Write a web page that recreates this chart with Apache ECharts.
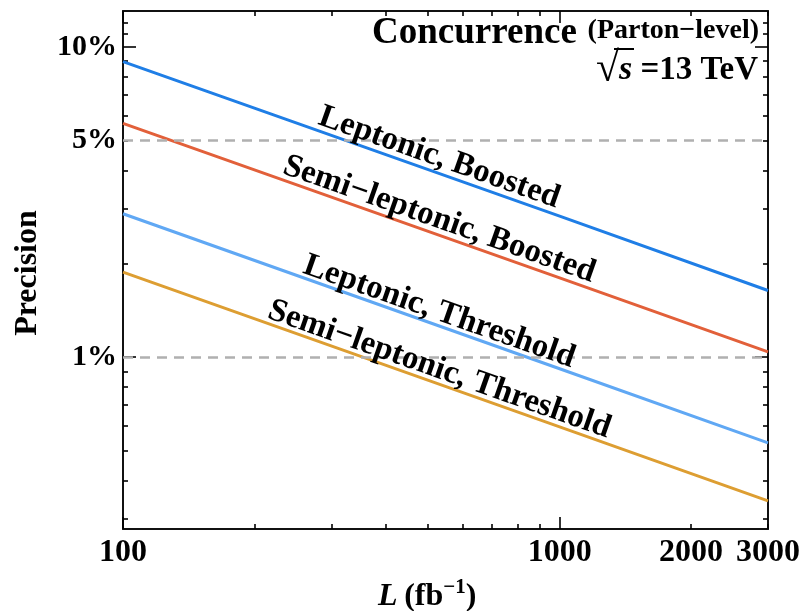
<!DOCTYPE html>
<html>
<head>
<meta charset="utf-8">
<script src="https://cdn.jsdelivr.net/npm/echarts@6/dist/echarts.min.js"></script>
<style>
  html, body { margin: 0; padding: 0; background: #ffffff; }
  #chart { width: 803px; height: 611px; }
</style>
</head>
<body>
<div id="chart"></div>
<script>
// Integrated luminosity (fb^-1) and the expected precision (%) for each channel
const luminosity = [100, 1000, 3000];
const leptonicBoosted = [8.97, 2.85, 1.64];
const semiLeptonicBoosted = [5.67, 1.80, 1.04];
const leptonicThreshold = [2.90, 0.917, 0.529];
const semiLeptonicThreshold = [1.88, 0.596, 0.344];

const channelNames = [
  'Leptonic, Boosted',
  'Semi\u2212leptonic, Boosted',
  'Leptonic, Threshold',
  'Semi\u2212leptonic, Threshold'
];

// Axis ticks and labels
const xLabelValues = [100, 1000, 2000, 3000];
const xMajorTicks = [100, 1000];
const xMinorTicks = [200, 300, 400, 500, 600, 700, 800, 900, 2000, 3000];
const yLabelValues = [1, 5, 10];
const yMajorTicks = [1, 10];
const yMinorTicks = [0.3, 0.4, 0.5, 0.6, 0.7, 0.8, 0.9, 2, 3, 4, 5, 6, 7, 8, 9, 11, 12];
const guideLevels = [5, 1];

const X_MIN = 100, X_MAX = 3000;
const Y_MIN = 0.279, Y_MAX = 13.07;

const SERIF = "'Liberation Serif', 'Times New Roman', serif";
const colors = ['#1f7ee6', '#e2603a', '#60a8f4', '#dd9e32'];
const seriesValues = [leptonicBoosted, semiLeptonicBoosted, leptonicThreshold, semiLeptonicThreshold];

// Where each channel name sits, in data coordinates, with its text slope
const labelAnchors = [[530, 4.40], [530, 2.78], [530, 1.40], [530, 0.912]];
const LABEL_ANGLE = -19.4;

function pct(v) { return (+v.toPrecision(3)) + '%'; }

function logAxis(kind, pos, ticks, tickLen, opts) {
  const isX = kind === 'x';
  return Object.assign({
    type: 'log',
    logBase: 10,
    position: pos,
    min: isX ? X_MIN : Y_MIN,
    max: isX ? X_MAX : Y_MAX,
    axisLine: { show: false },
    axisTick: {
      show: true, inside: true, length: tickLen,
      customValues: ticks,
      lineStyle: { color: '#000', width: 1.6 }
    },
    axisLabel: { show: false },
    splitLine: { show: false },
    minorTick: { show: false },
    minorSplitLine: { show: false }
  }, opts || {});
}

const frameLine = { show: true, onZero: false, lineStyle: { color: '#111', width: 2 } };

const xAxes = [
  logAxis('x', 'bottom', xMajorTicks, 12, {
    axisLine: frameLine,
    axisLabel: {
      show: true, customValues: xLabelValues, margin: 8,
      fontFamily: SERIF, fontWeight: 'bold', fontSize: 32, color: '#000',
      formatter: v => String(Math.round(v))
    }
  }),
  logAxis('x', 'bottom', xMinorTicks, 5),
  logAxis('x', 'top', xMajorTicks, 12, { axisLine: frameLine }),
  logAxis('x', 'top', xMinorTicks, 5)
];

const yAxes = [
  logAxis('y', 'left', yMajorTicks, 13, {
    axisLine: frameLine,
    axisLabel: {
      show: true, customValues: yLabelValues, margin: 6,
      fontFamily: SERIF, fontWeight: 'bold', fontSize: 30, color: '#000',
      formatter: pct
    }
  }),
  logAxis('y', 'left', yMinorTicks, 5),
  logAxis('y', 'right', yMajorTicks, 13, { axisLine: frameLine }),
  logAxis('y', 'right', yMinorTicks, 5)
];

const series = [{
  type: 'line',
  data: [],
  silent: true,
  z: 1,
  markLine: {
    silent: true,
    symbol: 'none',
    label: { show: false },
    lineStyle: { color: '#b0b0b0', type: [10, 7], width: 2.6 },
    data: guideLevels.map(v => ({ yAxis: v }))
  }
}];

seriesValues.forEach((vals, i) => {
  series.push({
    type: 'line',
    name: channelNames[i],
    data: luminosity.map((x, j) => [x, vals[j]]),
    showSymbol: false,
    symbol: 'none',
    z: 3,
    lineStyle: { color: colors[i], width: 3 },
    markPoint: {
      silent: true,
      symbol: 'circle',
      symbolSize: 1,
      itemStyle: { color: 'rgba(0,0,0,0)' },
      label: {
        show: true,
        position: 'inside',
        rotate: LABEL_ANGLE,
        formatter: channelNames[i],
        fontFamily: SERIF, fontWeight: 'bold', fontSize: 33, color: '#000'
      },
      data: [{ coord: labelAnchors[i] }]
    }
  });
});

const chart = echarts.init(document.getElementById('chart'), null, { renderer: 'canvas' });
chart.setOption({
  backgroundColor: '#ffffff',
  animation: false,
  grid: { left: 123, right: 34, top: 11, bottom: 82, containLabel: false },
  xAxis: xAxes,
  yAxis: yAxes,
  series: series,
  graphic: [
    {
      type: 'text', x: 28, y: 273, rotation: Math.PI / 2,
      style: {
        text: 'Precision', fill: '#000',
        font: 'bold 32px ' + SERIF,
        textAlign: 'center', textVerticalAlign: 'middle'
      }
    },
    {
      type: 'text', x: 378, y: 595,
      style: {
        text: '{i|L}  {n|(fb}{s|\u22121}{n|)}',
        textAlign: 'left', textVerticalAlign: 'middle', fill: '#000',
        rich: {
          i: { fontFamily: SERIF, fontWeight: 'bold', fontStyle: 'italic', fontSize: 32, lineHeight: 36, verticalAlign: 'bottom' },
          n: { fontFamily: SERIF, fontWeight: 'bold', fontSize: 32, lineHeight: 36, verticalAlign: 'bottom' },
          s: { fontFamily: SERIF, fontWeight: 'bold', fontSize: 21, lineHeight: 36, verticalAlign: 'top' }
        }
      }
    },
    {
      type: 'text', x: 372, y: 33,
      style: {
        text: 'Concurrence', fill: '#000',
        font: 'bold 37px ' + SERIF,
        textAlign: 'left', textVerticalAlign: 'middle'
      }
    },
    {
      type: 'text', x: 759, y: 31,
      style: {
        text: '(Parton\u2212level)', fill: '#000',
        font: 'bold 28px ' + SERIF,
        textAlign: 'right', textVerticalAlign: 'middle'
      }
    },
    {
      type: 'text', x: 758, y: 70,
      style: {
        text: '{r|\u221a}{i|s}{n| =13 TeV}',
        textAlign: 'right', textVerticalAlign: 'middle', fill: '#000',
        rich: {
          r: { fontFamily: SERIF, fontWeight: 'bold', fontSize: 42, lineHeight: 44 },
          i: { fontFamily: SERIF, fontWeight: 'bold', fontStyle: 'italic', fontSize: 34, lineHeight: 44 },
          n: { fontFamily: SERIF, fontWeight: 'bold', fontSize: 33, lineHeight: 44 }
        }
      }
    },
    {
      // vinculum of the square root, extended over the s
      type: 'line',
      shape: { x1: 614, y1: 49, x2: 634, y2: 49 },
      style: { stroke: '#000', lineWidth: 2 }
    }
  ]
});
</script>
</body>
</html>
